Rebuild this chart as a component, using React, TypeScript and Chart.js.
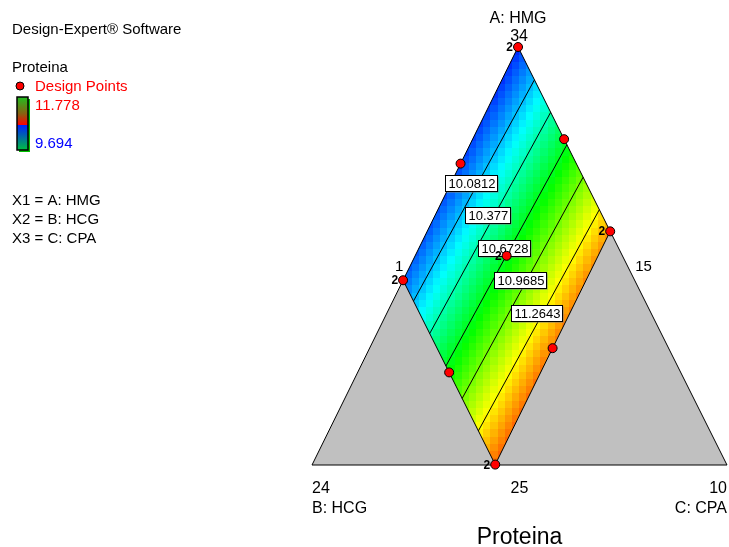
import { useEffect, useRef } from 'react';
import { Chart, registerables } from 'chart.js';

Chart.register(...registerables);

const FONT = '"Liberation Sans", Arial, Helvetica, sans-serif';

// Plot-space positions of the simplex vertices: A (top), B (bottom left), C (bottom right)
const vertexX = [0.4965, 0, 1];
const vertexY = [1, 0, 0];

const componentLabels = ['A: HMG', 'B: HCG', 'C: CPA'];
const vertexValueLabels = ['34', '24', '10'];
const constraintLabels = ['1', '15', '25'];
const legendFactors = ['X1 = A: HMG', 'X2 = B: HCG', 'X3 = C: CPA'];

// Upper limits on B and C (simplex fractions) bounding the design space
const bUpper = 0.558;
const cUpper = 0.441;

// Linear mixture model for Proteina: coefficients of A, B, C
const modelCoefs = [9.782, 9.978, 13.592];
const contourLevels = [10.0812, 10.377, 10.6728, 10.9685, 11.2643];
const responseRange = [9.694, 11.778];

// Design points (simplex fractions) and replicate counts
const designA = [1, 0.721, 0.7795, 0.559, 0.442, 0.5005, 0.2215, 0.2795, 0.001];
const designB = [0, 0.279, 0, 0, 0.558, 0.279, 0.558, 0.279, 0.558];
const designC = [0, 0, 0.2205, 0.441, 0, 0.2205, 0.2205, 0.441, 0.441];
const replicates = [2, 1, 1, 2, 2, 2, 1, 1, 2];

const GRID = 58;

type Pt = { x: number; y: number };

function toPlot(a: number, b: number, c: number): Pt {
  return {
    x: a * vertexX[0] + b * vertexX[1] + c * vertexX[2],
    y: a * vertexY[0] + b * vertexY[1] + c * vertexY[2],
  };
}

function fromPlot(x: number, y: number): [number, number, number] {
  const a = y;
  const c = x - a * vertexX[0];
  return [a, 1 - a - c, c];
}

function response(a: number, b: number, c: number) {
  return modelCoefs[0] * a + modelCoefs[1] * b + modelCoefs[2] * c;
}

const colorStops = [
  [0, 0, 255],
  [0, 255, 255],
  [0, 255, 0],
  [255, 255, 0],
  [255, 0, 0],
];

function colorFor(v: number) {
  let t = (v - responseRange[0]) / (responseRange[1] - responseRange[0]);
  t = Math.max(0, Math.min(1, t));
  const s = t * 4;
  const i = Math.min(3, Math.floor(s));
  const f = s - i;
  const c0 = colorStops[i];
  const c1 = colorStops[i + 1];
  const ch = (k: number) => Math.round(c0[k] + (c1[k] - c0[k]) * f);
  return `rgb(${ch(0)},${ch(1)},${ch(2)})`;
}

// Corners of the feasible region: A apex, B limit on AB edge, bottom corner, C limit on AC edge
const regionCorners: [number, number, number][] = [
  [1, 0, 0],
  [1 - bUpper, bUpper, 0],
  [1 - bUpper - cUpper, bUpper, cUpper],
  [1 - cUpper, 0, cUpper],
];

function contourEnds(level: number): [number, number, number][] {
  const dAC = modelCoefs[2] - modelCoefs[0];
  const c1 = (level - modelCoefs[0]) / dAC;
  const c2 = (level - modelCoefs[0] * (1 - bUpper) - modelCoefs[1] * bUpper) / dAC;
  return [
    [1 - c1, 0, c1],
    [1 - bUpper - c2, bUpper, c2],
  ];
}

const triangleData = [0, 1, 2, 0].map((i) => ({ x: vertexX[i], y: vertexY[i] }));
const innerEdgeData = [regionCorners[1], regionCorners[2], regionCorners[3]].map((p) => toPlot(p[0], p[1], p[2]));
const contourData = contourLevels.map((l) => contourEnds(l).map((p) => toPlot(p[0], p[1], p[2])));
const pointData = designA.map((a, i) => toPlot(a, designB[i], designC[i]));

const ternaryPlugin = {
  id: 'ternaryMixture',
  beforeDatasetsDraw(chart: any) {
    const { ctx } = chart;
    const xs = chart.scales.x;
    const ys = chart.scales.y;
    const P = (p: Pt) => [xs.getPixelForValue(p.x), ys.getPixelForValue(p.y)];
    ctx.save();
    ctx.beginPath();
    [0, 1, 2].forEach((i, k) => {
      const [px, py] = P({ x: vertexX[i], y: vertexY[i] });
      if (k === 0) ctx.moveTo(px, py);
      else ctx.lineTo(px, py);
    });
    ctx.closePath();
    ctx.fillStyle = '#c0c0c0';
    ctx.fill();

    ctx.beginPath();
    regionCorners.forEach((r, k) => {
      const [px, py] = P(toPlot(r[0], r[1], r[2]));
      if (k === 0) ctx.moveTo(px, py);
      else ctx.lineTo(px, py);
    });
    ctx.closePath();
    ctx.clip();
    for (let i = 0; i < GRID; i++) {
      for (let j = 0; j < GRID; j++) {
        const x0 = i / GRID;
        const x1 = (i + 1) / GRID;
        const y0 = j / GRID;
        const y1 = (j + 1) / GRID;
        const [a, b, c] = fromPlot((x0 + x1) / 2, (y0 + y1) / 2);
        if (a < -0.05 || b < -0.05 || c < -0.05 || b > bUpper + 0.05 || c > cUpper + 0.05) continue;
        ctx.fillStyle = colorFor(response(a, b, c));
        const px0 = Math.floor(xs.getPixelForValue(x0));
        const px1 = Math.ceil(xs.getPixelForValue(x1));
        const py0 = Math.floor(ys.getPixelForValue(y1));
        const py1 = Math.ceil(ys.getPixelForValue(y0));
        ctx.fillRect(px0, py0, px1 - px0, py1 - py0);
      }
    }
    ctx.restore();
  },
  afterDatasetDraw(chart: any, args: any) {
    if (args.index !== 1) return;
    const { ctx } = chart;
    const xs = chart.scales.x;
    const ys = chart.scales.y;
    ctx.save();
    ctx.font = `13px ${FONT}`;
    ctx.textBaseline = 'middle';
    ctx.textAlign = 'left';
    contourLevels.forEach((level) => {
      const [e0, e1] = contourEnds(level);
      const t = 0.465;
      const p = toPlot(
        e0[0] + (e1[0] - e0[0]) * t,
        e0[1] + (e1[1] - e0[1]) * t,
        e0[2] + (e1[2] - e0[2]) * t,
      );
      const cx = xs.getPixelForValue(p.x) - 7;
      const cy = ys.getPixelForValue(p.y);
      const text = String(level);
      const w = Math.round(ctx.measureText(text).width + 5);
      const h = 16;
      const bx = Math.round(cx - w / 2) + 0.5;
      const by = Math.round(cy - h / 2) + 0.5;
      ctx.fillStyle = '#808080';
      ctx.fillRect(bx + 1, by + 1, w, h);
      ctx.fillStyle = '#ffffff';
      ctx.fillRect(bx, by, w, h);
      ctx.strokeStyle = '#000000';
      ctx.lineWidth = 1;
      ctx.strokeRect(bx, by, w, h);
      ctx.fillStyle = '#000000';
      ctx.fillText(text, bx + 3, by + h / 2 + 1);
    });
    ctx.restore();
  },
  afterDatasetsDraw(chart: any) {
    const { ctx } = chart;
    const xs = chart.scales.x;
    const ys = chart.scales.y;
    const P = (p: Pt) => [xs.getPixelForValue(p.x), ys.getPixelForValue(p.y)];
    ctx.save();
    ctx.fillStyle = '#000000';

    // replicate counts beside design points
    ctx.font = `bold 12px ${FONT}`;
    ctx.textAlign = 'right';
    ctx.textBaseline = 'alphabetic';
    pointData.forEach((p, i) => {
      if (replicates[i] < 2) return;
      const [px, py] = P(p);
      ctx.fillText(String(replicates[i]), px - 5, py + 4);
    });

    const [ax, ay] = P({ x: vertexX[0], y: vertexY[0] });
    const [bx, by] = P({ x: vertexX[1], y: vertexY[1] });
    const [cx, cy] = P({ x: vertexX[2], y: vertexY[2] });
    const lb = P(toPlot(regionCorners[1][0], regionCorners[1][1], regionCorners[1][2]));
    const rc = P(toPlot(regionCorners[3][0], regionCorners[3][1], regionCorners[3][2]));

    ctx.font = `16px ${FONT}`;
    ctx.textAlign = 'center';
    ctx.fillText(componentLabels[0], ax, ay - 24);
    ctx.fillText(vertexValueLabels[0], ax + 1, ay - 6);
    ctx.fillText(constraintLabels[2], (bx + cx) / 2, by + 28);
    ctx.textAlign = 'left';
    ctx.fillText(vertexValueLabels[1], bx, by + 28);
    ctx.fillText(componentLabels[1], bx, by + 48);
    ctx.textAlign = 'right';
    ctx.fillText(vertexValueLabels[2], cx, cy + 28);
    ctx.fillText(componentLabels[2], cx, cy + 48);

    ctx.font = `15px ${FONT}`;
    ctx.textAlign = 'left';
    ctx.fillText(constraintLabels[0], lb[0] - 8, lb[1] - 9);
    ctx.fillText(constraintLabels[1], rc[0] + 25, rc[1] + 40);

    ctx.font = `23px ${FONT}`;
    ctx.textAlign = 'center';
    ctx.fillText('Proteina', (bx + cx) / 2, 544);

    // legend block on the left
    ctx.textAlign = 'left';
    ctx.font = `15px ${FONT}`;
    ctx.fillStyle = '#000000';
    ctx.fillText('Design-Expert® Software', 12, 34);
    ctx.fillText('Proteina', 12, 72);
    legendFactors.forEach((t, i) => ctx.fillText(t, 12, 205 + i * 19));

    ctx.beginPath();
    ctx.arc(20, 86, 4, 0, Math.PI * 2);
    ctx.fillStyle = '#ff0000';
    ctx.fill();
    ctx.strokeStyle = '#000000';
    ctx.lineWidth = 1;
    ctx.stroke();
    ctx.fillStyle = '#ff0000';
    ctx.fillText('Design Points', 35, 91);
    ctx.fillText(String(responseRange[1]), 35, 110);
    ctx.fillStyle = '#0000ff';
    ctx.fillText(String(responseRange[0]), 35, 148);

    // colour bar
    const barL = 17;
    const barR = 28;
    const barT = 97;
    const barB = 150;
    const barM = 125;
    ctx.fillStyle = '#00c000';
    ctx.fillRect(barL + 2, barT + 2, barR - barL, barB - barT);
    const g1 = ctx.createLinearGradient(0, barT, 0, barM);
    g1.addColorStop(0, '#20c020');
    g1.addColorStop(0.6, '#8a6010');
    g1.addColorStop(1, '#ff0000');
    ctx.fillStyle = g1;
    ctx.fillRect(barL, barT, barR - barL, barM - barT);
    const g2 = ctx.createLinearGradient(0, barM, 0, barB);
    g2.addColorStop(0, '#0020ff');
    g2.addColorStop(0.5, '#0070a0');
    g2.addColorStop(1, '#00c040');
    ctx.fillStyle = g2;
    ctx.fillRect(barL, barM, barR - barL, barB - barM);
    ctx.strokeStyle = '#000000';
    ctx.lineWidth = 1.5;
    ctx.strokeRect(barL, barT, barR - barL, barB - barT);
    ctx.restore();
  },
};

export default function App() {
  const canvasRef = useRef<HTMLCanvasElement | null>(null);

  useEffect(() => {
    const canvas = canvasRef.current;
    if (!canvas) return;
    const line = (data: Pt[]) => ({
      data,
      showLine: true,
      borderColor: '#000000',
      borderWidth: 1,
      pointRadius: 0,
      fill: false,
      clip: false as any,
    });
    const chart = new Chart(canvas, {
      type: 'scatter',
      data: {
        datasets: [
          {
            data: pointData,
            showLine: false,
            pointRadius: 4.5,
            pointBackgroundColor: '#ff0000',
            pointBorderColor: '#000000',
            pointBorderWidth: 1,
            clip: false as any,
          },
          line(triangleData),
          line(innerEdgeData),
          ...contourData.map((d) => line(d)),
        ] as any,
      },
      options: {
        responsive: false,
        animation: false,
        events: [],
        layout: { autoPadding: false, padding: { left: 312, right: 2, top: 47, bottom: 82 } },
        scales: {
          x: { type: 'linear', min: 0, max: 1, display: false },
          y: { type: 'linear', min: 0, max: 1, display: false },
        },
        plugins: {
          legend: { display: false },
          tooltip: { enabled: false },
        },
      },
      plugins: [ternaryPlugin as any],
    });
    return () => chart.destroy();
  }, []);

  return (
    <div style={{ position: 'absolute', left: 0, top: 0, width: 729, height: 547, background: '#ffffff' }}>
      <canvas ref={canvasRef} width={729} height={547} style={{ display: 'block' }} />
    </div>
  );
}
